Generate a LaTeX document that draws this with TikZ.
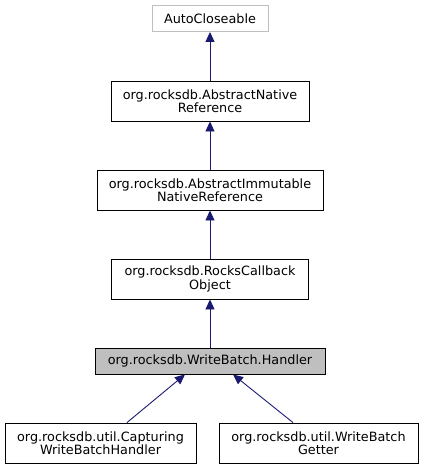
\documentclass[tikz,border=0pt]{standalone}
\usepackage{fontspec}
\setmainfont{DejaVu Sans}
\usetikzlibrary{arrows.meta}
\definecolor{edgeblue}{HTML}{191970}
\definecolor{hgray}{HTML}{BFBFBF}
\definecolor{ggray}{HTML}{BFBFBF}
\tikzset{
  cls/.style={draw=black, line width=0.9pt, fill=white, align=center, inner sep=0pt,
    font=\fontsize{12.8}{13.2}\selectfont},
  inh/.style={{Triangle[length=10pt,width=9pt]}-, draw=edgeblue, line width=0.9pt, color=edgeblue}
}
\begin{document}
\begin{tikzpicture}[x=1pt,y=-1pt]
\useasboundingbox (0,0) rectangle (424,469);
\node[cls, draw=ggray, minimum width=116pt, minimum height=26pt] (auto) at (210,18.5) {AutoCloseable};
\node[cls, minimum width=198pt, minimum height=40pt] (anr) at (210,101) {org.rocksdb.AbstractNative\\Reference};
\node[cls, minimum width=226pt, minimum height=40pt] (aimr) at (210,190) {org.rocksdb.AbstractImmutable\\NativeReference};
\node[cls, minimum width=197pt, minimum height=40pt] (rcb) at (210,279) {org.rocksdb.RocksCallback\\Object};
\node[cls, fill=hgray, minimum width=230pt, minimum height=26pt] (hand) at (210,361) {org.rocksdb.WriteBatch.Handler};
\node[cls, minimum width=191pt, minimum height=40pt] (cap) at (100.5,443) {org.rocksdb.util.Capturing\\WriteBatchHandler};
\node[cls, minimum width=199pt, minimum height=40pt] (get) at (318.5,443) {org.rocksdb.util.WriteBatch\\Getter};
\draw[inh] (auto.south) -- (anr.north);
\draw[inh] (anr.south) -- (aimr.north);
\draw[inh] (aimr.south) -- (rcb.north);
\draw[inh] (rcb.south) -- (hand.north);
\draw[inh] ([xshift=-25pt]hand.south) -- ([xshift=26.5pt]cap.north);
\draw[inh] ([xshift=23pt]hand.south) -- ([xshift=-25.5pt]get.north);
\end{tikzpicture}
\end{document}
